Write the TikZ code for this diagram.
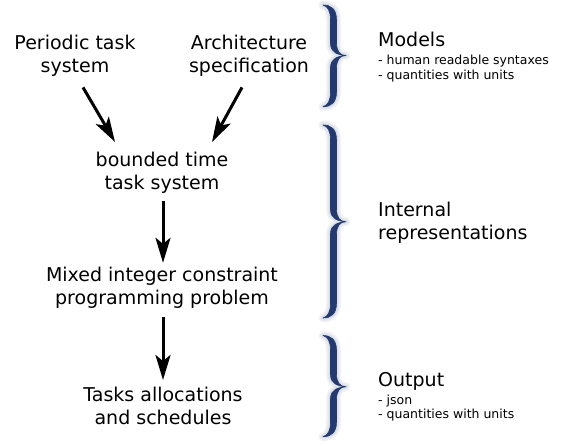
\documentclass[tikz,border=0pt]{standalone}
\usepackage{fontspec}
\setmainfont{DejaVu Sans}
\usetikzlibrary{arrows.meta}
\definecolor{bracenavy}{HTML}{243A6E}
\newcommand{\bigfont}{\fontsize{19}{23}\selectfont}
\newcommand{\smallfontx}{\fontsize{12.5}{14.7}\selectfont}
% tapered curly brace: #1 top y, #2 tip y, #3 bottom y
\newcommand{\braceshape}[3]{
  (323,#1) .. controls (331,#1) and (336.5,#1+4) .. (336.5,#1+15)
  -- (336.5,#2-13)
  .. controls (336.5,#2-4) and (340,#2) .. (346,#2)
  .. controls (340,#2) and (336.5,#2+4) .. (336.5,#2+13)
  -- (336.5,#3-15)
  .. controls (336.5,#3-4) and (331,#3) .. (323,#3)
  .. controls (328,#3-1.5) and (330.5,#3-6) .. (330.5,#3-15)
  -- (330.5,#2+12)
  .. controls (330.5,#2+3) and (338,#2+0.5) .. (346,#2)
  .. controls (338,#2-0.5) and (330.5,#2-3) .. (330.5,#2-12)
  -- (330.5,#1+15)
  .. controls (330.5,#1+6) and (328,#1+1.5) .. (323,#1)
  -- cycle
}
\tikzset{
  mainbox/.style={inner sep=0pt, align=center, font=\bigfont, anchor=north},
  sidetitle/.style={inner sep=0pt, font=\bigfont, anchor=base west},
  sidelist/.style={inner sep=0pt, align=left, font=\smallfontx, anchor=north west},
  flowarrow/.style={line width=3pt, -{Stealth[length=25pt,width=15pt,inset=6pt]}},
  braceglow/.style={draw=bracenavy, line width=#1, line join=round, opacity=0.06},
  bracefill/.style={fill=bracenavy, draw=bracenavy, line width=0.6pt, line join=round}
}
\begin{document}
\begin{tikzpicture}[x=1pt,y=-1pt]
\path[use as bounding box] (0,0) rectangle (564,445);

% flow nodes
\node[mainbox] (per) at (75,32.9) {\strut Periodic task\\\strut system};
\node[mainbox] (arch) at (249,32.9) {\strut Architecture\\\strut specification};
\node[mainbox] (bts) at (162,149.9) {\strut bounded time\\\strut task system};
\node[mainbox] (mip) at (162,265.6) {\strut Mixed integer constraint\\\strut programming problem};
\node[mainbox] (tas) at (163,385.6) {\strut Tasks allocations\\\strut and schedules};

% arrows
\draw[flowarrow] ([shift={(8,8.1)}]per.south) -- ([shift={(-47,-7.9)}]bts.north);
\draw[flowarrow] ([shift={(-7,8.1)}]arch.south) -- ([shift={(50,-7.9)}]bts.north);
\draw[flowarrow] ([shift={(1,4.4)}]bts.south) -- ([shift={(1,-2.8)}]mip.north);
\draw[flowarrow] ([shift={(1,4.8)}]mip.south) -- ([shift={(0,-5.6)}]tas.north);

% braces
\foreach \t/\m/\b in {5/55.5/106.7, 125/221.7/318, 335.5/386.7/436.7}{
  \path[braceglow=9pt] \braceshape{\t}{\m}{\b};
  \path[braceglow=6pt] \braceshape{\t}{\m}{\b};
  \path[braceglow=3.5pt] \braceshape{\t}{\m}{\b};
  \path[bracefill] \braceshape{\t}{\m}{\b};
}

% side labels
\node[sidetitle] (models) at (378,46.7) {Models};
\node[sidelist] (modelslist) at (378,54.0) {\strut- human readable syntaxes\\\strut- quantities with units};
\node[inner sep=0pt, align=left, font=\bigfont, anchor=north west] (internal) at (378,199.9) {\strut Internal\\\strut representations};
\node[sidetitle] (output) at (378,386) {Output};
\node[sidelist] (outputlist) at (378,393.7) {\strut- json\\\strut- quantities with units};
\end{tikzpicture}
\end{document}
